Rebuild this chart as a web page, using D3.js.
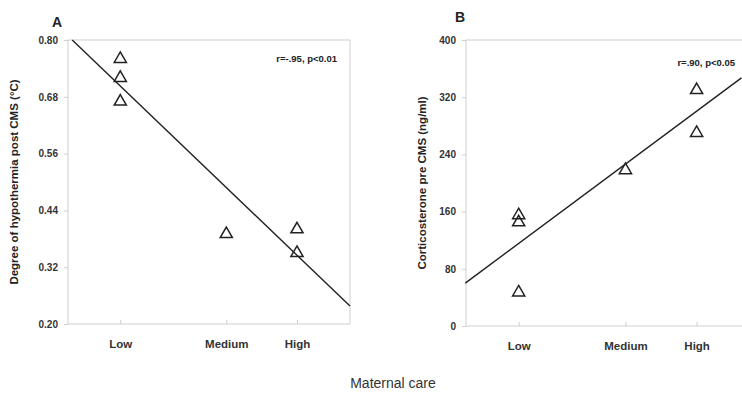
<!DOCTYPE html>
<html>
<head>
<meta charset="utf-8">
<script src="https://cdn.jsdelivr.net/npm/d3@7/dist/d3.min.js"></script>
<style>
  html, body { margin: 0; padding: 0; background: #fff; }
  svg { display: block; }
</style>
</head>
<body>
<svg id="chart" width="742" height="398"></svg>
<script>
// Maternal care groups and their positions on the shared x scale
const categories = ["Low", "Medium", "High"];
const categoryPos = [1, 2.5, 3.5];
const xDomain = [0.26, 4.25];

// Panel A: hypothermia after CMS
const hypoGroup = ["Low", "Low", "Low", "Medium", "High", "High"];
const hypoValues = [0.76, 0.72, 0.67, 0.39, 0.40, 0.35];
const hypoTicks = [0.20, 0.32, 0.44, 0.56, 0.68, 0.80];
const hypoFitX = [0.32, 4.25];
const hypoFitY = [0.80, 0.238];

// Panel B: corticosterone before CMS
const cortGroup = ["Low", "Low", "Low", "Medium", "High", "High"];
const cortValues = [155, 145, 47, 218, 330, 270];
const cortTicks = [0, 80, 160, 240, 320, 400];
const cortFitX = [0.25, 4.13];
const cortFitY = [60, 347];

const svg = d3.select("#chart");
const FONT = "'Liberation Sans', Arial, sans-serif";
const frameColor = "#cfcfcf";
const inkColor = "#222";

function panel(opt) {
  const g = svg.append("g");
  const x = d3.scaleLinear().domain(xDomain).range([opt.left, opt.right]);
  const y = d3.scaleLinear().domain([opt.ticks[0], opt.ticks[opt.ticks.length - 1]])
    .range([opt.bottom, opt.top]);

  // frame
  g.append("rect")
    .attr("x", opt.left).attr("y", opt.top)
    .attr("width", opt.right - opt.left).attr("height", opt.bottom - opt.top)
    .attr("fill", "none").attr("stroke", frameColor).attr("stroke-width", 1);

  // y axis
  const yAxis = d3.axisLeft(y).tickValues(opt.ticks).tickSize(4).tickPadding(6)
    .tickFormat(opt.fmt);
  const ya = g.append("g").attr("transform", `translate(${opt.left},0)`).call(yAxis);
  ya.select(".domain").remove();
  ya.selectAll(".tick line").attr("stroke", frameColor);
  ya.selectAll(".tick text")
    .attr("font-family", FONT).attr("font-size", 10).attr("font-weight", "bold")
    .attr("fill", "#333");

  // x axis: ticks point inward, labels below
  const xAxis = d3.axisBottom(x).tickValues(categoryPos).tickSize(-4).tickPadding(16)
    .tickFormat((d, i) => categories[i]);
  const xa = g.append("g").attr("transform", `translate(0,${opt.bottom})`).call(xAxis);
  xa.select(".domain").remove();
  xa.selectAll(".tick line").attr("stroke", frameColor);
  xa.selectAll(".tick text")
    .attr("font-family", FONT).attr("font-size", 11.5).attr("font-weight", "bold")
    .attr("fill", "#333");

  // regression line
  const line = d3.line().x(d => x(d[0])).y(d => y(d[1]));
  g.append("path")
    .datum(opt.fitX.map((v, i) => [v, opt.fitY[i]]))
    .attr("d", line)
    .attr("fill", "none").attr("stroke", inkColor).attr("stroke-width", 1.4);

  // observations
  const tri = d3.symbol().type(d3.symbolTriangle).size(64);
  g.selectAll("path.pt")
    .data(opt.values.map((v, i) => ({ g: opt.groups[i], v })))
    .join("path")
    .attr("class", "pt")
    .attr("d", tri)
    .attr("transform", d => `translate(${x(categoryPos[categories.indexOf(d.g)])},${y(d.v)})`)
    .attr("fill", "none").attr("stroke", inkColor).attr("stroke-width", 1.5);

  // correlation note
  g.append("text")
    .attr("x", opt.noteX).attr("y", opt.noteY)
    .attr("text-anchor", "end")
    .attr("font-family", FONT).attr("font-size", 9.5).attr("font-weight", "bold")
    .attr("fill", "#222")
    .text(opt.note);

  // y-axis title
  g.append("text")
    .attr("transform", `translate(${opt.titleX},${(opt.top + opt.bottom) / 2}) rotate(-90)`)
    .attr("text-anchor", "middle")
    .attr("font-family", FONT).attr("font-size", 11.5).attr("font-weight", "bold")
    .attr("fill", "#222")
    .text(opt.yTitle);

  // panel letter
  g.append("text")
    .attr("x", opt.letterX).attr("y", opt.letterY)
    .attr("text-anchor", "middle")
    .attr("font-family", FONT).attr("font-size", 14).attr("font-weight", "bold")
    .attr("fill", "#222")
    .text(opt.letter);
}

panel({
  left: 68, right: 350, top: 40, bottom: 324,
  ticks: hypoTicks, fmt: d3.format(".2f"),
  groups: hypoGroup, values: hypoValues,
  fitX: hypoFitX, fitY: hypoFitY,
  note: "r=-.95, p<0.01", noteX: 337, noteY: 62,
  yTitle: "Degree of hypothermia post CMS (°C)", titleX: 18,
  letter: "A", letterX: 57, letterY: 27
});

panel({
  left: 466, right: 750, top: 40, bottom: 326,
  ticks: cortTicks, fmt: d3.format("d"),
  groups: cortGroup, values: cortValues,
  fitX: cortFitX, fitY: cortFitY,
  note: "r=.90, p<0.05", noteX: 735, noteY: 66,
  yTitle: "Corticosterone pre CMS (ng/ml)", titleX: 426,
  letter: "B", letterX: 460, letterY: 22
});

// shared x-axis title
svg.append("text")
  .attr("x", 393).attr("y", 388)
  .attr("text-anchor", "middle")
  .attr("font-family", FONT).attr("font-size", 14)
  .attr("fill", "#333")
  .text("Maternal care");
</script>
</body>
</html>
